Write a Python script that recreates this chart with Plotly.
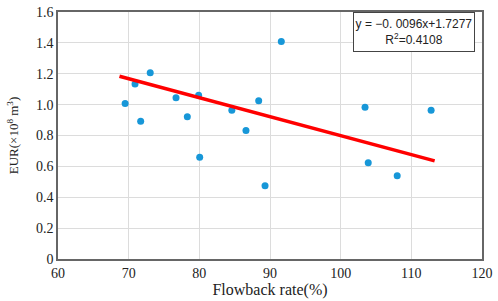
import plotly.graph_objects as go

flowback_rate = [69.5, 70.9, 71.7, 73.05, 76.7, 78.3, 79.9, 80.05, 84.6, 86.6,
                 88.4, 89.3, 91.6, 103.45, 103.9, 108.0, 112.8]
eur = [1.008, 1.134, 0.893, 1.207, 1.044, 0.922, 1.06, 0.659, 0.964, 0.832,
       1.025, 0.475, 1.409, 0.983, 0.624, 0.54, 0.964]

trend_x = [68.7, 113.3]
trend_y = [1.184, 0.636]

x_ticks = [60, 70, 80, 90, 100, 110, 120]
y_ticks = [0, 0.2, 0.4, 0.6, 0.8, 1.0, 1.2, 1.4, 1.6]
y_tick_text = ["0", "0.2", "0.4", "0.6", "0.8", "1.0", "1.2", "1.4", "1.6"]

serif = "Liberation Serif, Times New Roman, serif"
sans = "Liberation Sans, Arial, sans-serif"

fig = go.Figure()
fig.add_trace(go.Scatter(x=flowback_rate, y=eur, mode="markers",
                         marker=dict(color="#1797d8", size=7), showlegend=False))
fig.add_trace(go.Scatter(x=trend_x, y=trend_y, mode="lines",
                         line=dict(color="#ff0000", width=3.5), showlegend=False))

fig.update_layout(
    width=498, height=301,
    margin=dict(l=58, r=11, t=5, b=42),
    paper_bgcolor="white", plot_bgcolor="white",
    font=dict(family=serif, size=14, color="#222"),
    xaxis=dict(range=[60, 120], tickvals=x_ticks, showgrid=True, gridcolor="#dcdcdc",
               gridwidth=1, showline=True, linecolor="#666", linewidth=1.5, mirror=True,
               ticks="", zeroline=False, ticklabeloverflow="allow",
               title=dict(text="Flowback rate(%)", font=dict(family=serif, size=16), standoff=3),
               tickfont=dict(family=serif, size=14)),
    yaxis=dict(range=[0, 1.6], tickvals=y_ticks, ticktext=y_tick_text, showgrid=True,
               gridcolor="#dcdcdc", gridwidth=1, showline=True, linecolor="#666",
               linewidth=1.5, mirror=True, ticks="", zeroline=False, ticklabeloverflow="allow",
               title=dict(text="EUR(×10<sup>8</sup> m<sup>3</sup>)", font=dict(family=serif, size=13), standoff=14),
               tickfont=dict(family=serif, size=14)),
    annotations=[dict(
        xref="paper", yref="paper", x=0.839, y=0.998,
        text="y = −0. 0096x+1.7277<br>R<sup>2</sup>=0.4108",
        showarrow=False, font=dict(family=sans, size=12, color="#222"),
        bordercolor="#444", borderwidth=1, borderpad=1, bgcolor="white",
        width=118, height=36, align="center", xanchor="center", yanchor="top")],
)

fig.write_html("out.html", config={"displayModeBar": False},
               post_script="document.body.style.margin='0px';document.body.style.overflow='hidden';")
